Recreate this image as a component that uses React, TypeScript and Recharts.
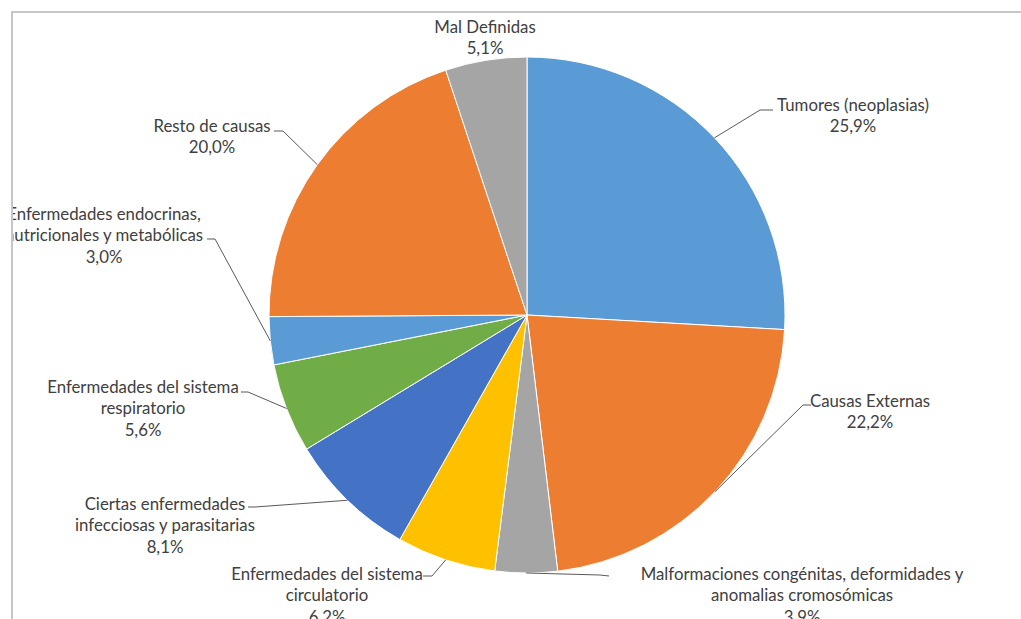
import { Pie, PieChart, Cell } from "recharts";

const causes = [
  "Tumores (neoplasias)",
  "Causas Externas",
  "Malformaciones congénitas, deformidades y anomalias cromosómicas",
  "Enfermedades del sistema circulatorio",
  "Ciertas enfermedades infecciosas y parasitarias",
  "Enfermedades del sistema respiratorio",
  "Enfermedades endocrinas, nutricionales y metabólicas",
  "Resto de causas",
  "Mal Definidas",
];
const shares = [25.9, 22.2, 3.9, 6.2, 8.1, 5.6, 3.0, 20.0, 5.1];
const labelLines = [
  ["Tumores (neoplasias)"],
  ["Causas Externas"],
  ["Malformaciones congénitas, deformidades y", "anomalias cromosómicas"],
  ["Enfermedades del sistema", "circulatorio"],
  ["Ciertas enfermedades", "infecciosas y parasitarias"],
  ["Enfermedades del sistema", "respiratorio"],
  ["Enfermedades endocrinas,", "nutricionales y metabólicas"],
  ["Resto de causas"],
  ["Mal Definidas"],
];

const colors = [
  "#5b9bd5",
  "#ed7d31",
  "#a5a5a5",
  "#ffc000",
  "#4472c4",
  "#70ad47",
  "#5b9bd5",
  "#ed7d31",
  "#a5a5a5",
];

// label placement in page coordinates: text centre x, first line y, leader elbow + end
const labelLayout = [
  { x: 853, y: 104, elbow: [760, 110], end: [773, 110] },
  { x: 870, y: 400, elbow: [803, 405], end: [811, 405] },
  { x: 802, y: 573, elbow: [600, 575], end: [609, 576] },
  { x: 327, y: 573, elbow: [432, 576], end: [423, 576] },
  { x: 165, y: 503, elbow: [255, 507], end: [248, 507] },
  { x: 143, y: 386, elbow: [248, 392], end: [241, 392] },
  { x: 104, y: 213, elbow: [215, 239], end: [207, 239] },
  { x: 212, y: 125, elbow: [283, 131], end: [274, 131] },
  { x: 485, y: 26, elbow: null, end: null },
];

const data = causes.map((name, i) => ({ name, value: shares[i] }));

const OX = 13;
const OY = 13;
const RAD = Math.PI / 180;
const LINE_H = 21.5;

const renderLabel = (props: any) => {
  const { cx, cy, midAngle, outerRadius, index } = props;
  const lay = labelLayout[index];
  const lines = [...labelLines[index], shares[index].toFixed(1).replace(".", ",") + "%"];
  const px = cx + outerRadius * Math.cos(-midAngle * RAD);
  const py = cy + outerRadius * Math.sin(-midAngle * RAD);
  return (
    <g key={`lbl-${index}`}>
      {lay.elbow && lay.end && (
        <polyline
          points={`${px},${py} ${lay.elbow[0] - OX},${lay.elbow[1] - OY} ${lay.end[0] - OX},${lay.end[1] - OY}`}
          fill="none"
          stroke="#595959"
          strokeWidth={1}
        />
      )}
      {lines.map((t, j) => (
        <text
          key={j}
          x={lay.x - OX}
          y={lay.y - OY + j * LINE_H}
          textAnchor="middle"
          dominantBaseline="central"
          fill="#404040"
          fontSize={16.8}
          fontFamily="Lato, 'Open Sans', sans-serif"
        >
          {t}
        </text>
      ))}
    </g>
  );
};

export default function App() {
  return (
    <div
      style={{
        position: "absolute",
        left: 0,
        top: 0,
        width: 1021,
        height: 619,
        background: "#fff",
        overflow: "hidden",
      }}
    >
      <div
        style={{
          position: "absolute",
          left: 11,
          top: 11,
          width: 1010,
          height: 608,
          borderTop: "2px solid #c6c6c6",
          borderLeft: "2px solid #c6c6c6",
          overflow: "hidden",
        }}
      >
        <PieChart width={1008} height={606} margin={{ top: 0, right: 0, bottom: 0, left: 0 }}>
          <Pie
            data={data}
            dataKey="value"
            nameKey="name"
            cx={527 - OX}
            cy={315 - OY}
            outerRadius={258}
            startAngle={90}
            endAngle={-270}
            stroke="#ffffff"
            strokeWidth={1}
            label={renderLabel}
            labelLine={false}
            isAnimationActive={false}
          >
            {data.map((d, i) => (
              <Cell key={d.name} fill={colors[i]} />
            ))}
          </Pie>
        </PieChart>
      </div>
    </div>
  );
}
